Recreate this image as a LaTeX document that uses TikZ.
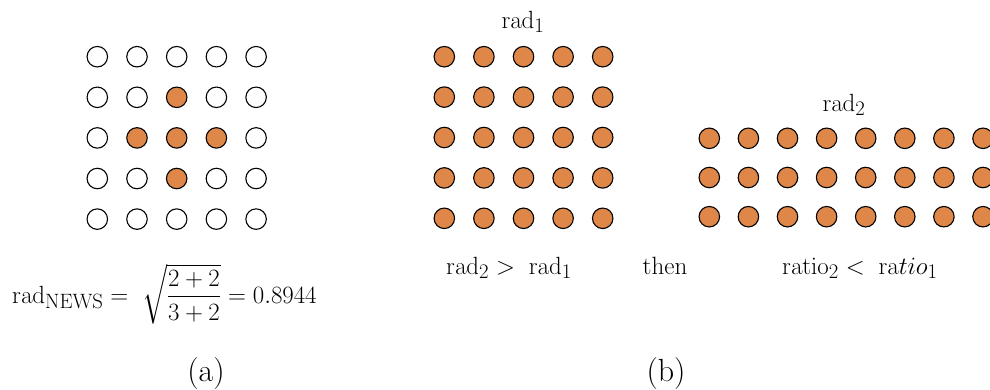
\documentclass[tikz,border=0pt]{standalone}
\usepackage{amsmath}
\definecolor{dotorange}{RGB}{222,135,72}
\begin{document}
\begin{tikzpicture}[x=1pt,y=-1pt,
  dot/.style={circle,draw=black,line width=1.1pt,minimum size=20.5pt,inner sep=0pt,fill=white},
  odot/.style={dot,fill=dotorange},
  mathlbl/.style={font=\fontsize{27.5}{32}\selectfont,inner sep=0pt},
  txtlbl/.style={font=\fontsize{25}{30}\selectfont,inner sep=0pt},
  caplbl/.style={font=\fontsize{32}{38}\selectfont,inner sep=0pt}]
\useasboundingbox (0,0) rectangle (990,389);
\clip (0,0) rectangle (990,389);
% (a) NEWS grid
\foreach \i in {1,...,5}{\foreach \j in {1,...,5}{
  \pgfmathtruncatemacro\dd{abs(\i-3)+abs(\j-3)}
  \ifnum\dd<2 \def\sty{odot}\else\def\sty{dot}\fi
  \node[\sty] (a\i\j) at ({97.3+39.7*(\i-1)},{56.7+40.6*(\j-1)}) {};
}}
% (b) grid 1
\foreach \i in {1,...,5}{\foreach \j in {1,...,5}{
  \node[odot] (b\i\j) at ({444.3+39.6*(\i-1)},{56.7+40.4*(\j-1)}) {};
}}
% (b) grid 2
\foreach \i in {1,...,8}{\foreach \j in {1,...,3}{
  \node[odot] (c\i\j) at ({709.3+39.1*(\i-1)},{138.3+39.2*(\j-1)}) {};
}}
% labels
\node[mathlbl,anchor=base] (r1) at (523,28) {$\mathrm{rad}_1$};
\node[mathlbl,anchor=base] (r2) at (844,111) {$\mathrm{rad}_2$};
\node[mathlbl,anchor=base west] (f) at (12,303) {$\mathrm{rad}_{\mathrm{NEWS}} = \;\sqrt{\dfrac{2+2}{3+2}} = 0.8944$};
\node[mathlbl,anchor=base west] (cmp1) at (446,274) {$\mathrm{rad}_2 >\; \mathrm{rad}_1$};
\node[txtlbl,anchor=base] (then) at (665,274) {then};
\node[mathlbl,anchor=base west] (cmp2) at (782,274) {$\mathrm{ratio}_2 <\; \mathrm{ra}tio_1$};
\node[caplbl,anchor=base] (capa) at (206,381) {(a)};
\node[caplbl,anchor=base] (capb) at (666,381) {(b)};
\end{tikzpicture}
\end{document}
